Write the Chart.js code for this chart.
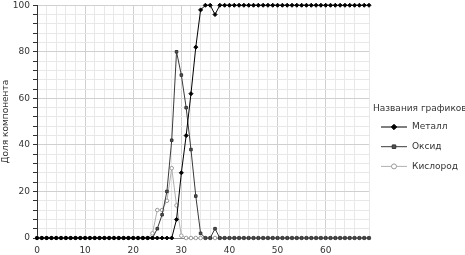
<!DOCTYPE html>
<html>
<head>
<meta charset="utf-8">
<script src="https://cdn.jsdelivr.net/npm/chart.js@4/dist/chart.umd.min.js"></script>
<style>
    html, body { margin: 0; padding: 0; background: #fff; }
    #wrap { width: 465px; height: 255px; }
</style>
</head>
<body>
<div id="wrap"><canvas id="chart"></canvas></div>
<script>
// Data
const xValues = [
    0, 1, 2, 3, 4, 5, 6, 7, 8, 9,
    10, 11, 12, 13, 14, 15, 16, 17, 18, 19,
    20, 21, 22, 23, 24, 25, 26, 27, 28, 29,
    30, 31, 32, 33, 34, 35, 36, 37, 38, 39,
    40, 41, 42, 43, 44, 45, 46, 47, 48, 49,
    50, 51, 52, 53, 54, 55, 56, 57, 58, 59,
    60, 61, 62, 63, 64, 65, 66, 67, 68, 69
];
const metall = [
    0, 0, 0, 0, 0, 0, 0, 0, 0, 0,
    0, 0, 0, 0, 0, 0, 0, 0, 0, 0,
    0, 0, 0, 0, 0, 0, 0, 0, 0, 8,
    28, 44, 62, 82, 98, 100, 100, 96, 100, 100,
    100, 100, 100, 100, 100, 100, 100, 100, 100, 100,
    100, 100, 100, 100, 100, 100, 100, 100, 100, 100,
    100, 100, 100, 100, 100, 100, 100, 100, 100, 100
];
const oksid = [
    0, 0, 0, 0, 0, 0, 0, 0, 0, 0,
    0, 0, 0, 0, 0, 0, 0, 0, 0, 0,
    0, 0, 0, 0, 0, 4, 10, 20, 42, 80,
    70, 56, 38, 18, 2, 0, 0, 4, 0, 0,
    0, 0, 0, 0, 0, 0, 0, 0, 0, 0,
    0, 0, 0, 0, 0, 0, 0, 0, 0, 0,
    0, 0, 0, 0, 0, 0, 0, 0, 0, 0
];
const kislorod = [
    0, 0, 0, 0, 0, 0, 0, 0, 0, 0,
    0, 0, 0, 0, 0, 0, 0, 0, 0, 0,
    0, 0, 0, 0, 2, 12, 12, 16, 30, 14,
    1, 0, 0, 0, 0, 0, 0, 0, 0, 0,
    0, 0, 0, 0, 0, 0, 0, 0, 0, 0,
    0, 0, 0, 0, 0, 0, 0, 0, 0, 0,
    0, 0, 0, 0, 0, 0, 0, 0, 0, 0
];
const seriesNames = ['Металл', 'Оксид', 'Кислород'];
const legendTitle = 'Названия графиков';
const yTitle = 'Доля компонента';

const FONT = 'DejaVu Sans';
const toPoints = (ys) => ys.map((y, i) => ({ x: xValues[i], y: y }));

// Legend on the right: line sample with the series marker in the middle
const sideLegend = {
    id: 'sideLegend',
    afterDraw(chart) {
        const c = chart.ctx;
        c.save();
        c.font = `9px "${FONT}"`;
        c.textBaseline = 'middle';
        c.textAlign = 'left';
        c.fillStyle = '#333';
        c.fillText(legendTitle, 373, 109);
        chart.data.datasets.forEach((ds, i) => {
            const y = 127 + i * 19.7;
            c.strokeStyle = ds.borderColor;
            c.lineWidth = 1;
            c.beginPath();
            c.moveTo(381, y);
            c.lineTo(407, y);
            c.stroke();
            c.fillStyle = ds.pointBackgroundColor;
            c.strokeStyle = ds.pointBorderColor;
            Chart.helpers.drawPoint(c, {
                pointStyle: ds.pointStyle,
                radius: ds.pointRadius + 0.7,
                borderWidth: 1
            }, 394, y);
            c.fillStyle = '#333';
            c.fillText(ds.label, 412, y);
        });
        c.restore();
    }
};

const ctx = document.getElementById('chart');
new Chart(ctx, {
    type: 'line',
    data: {
        datasets: [
            {
                label: seriesNames[0],
                data: toPoints(metall),
                borderColor: '#000',
                borderWidth: 1,
                pointStyle: 'rectRot',
                pointRadius: 2,
                pointBackgroundColor: '#000',
                pointBorderColor: '#000',
                pointBorderWidth: 1,
                clip: 5
            },
            {
                label: seriesNames[1],
                data: toPoints(oksid),
                borderColor: '#3a3a3a',
                borderWidth: 1,
                pointStyle: 'rect',
                pointRadius: 1.8,
                pointBackgroundColor: '#555',
                pointBorderColor: '#333',
                pointBorderWidth: 1,
                clip: 5
            },
            {
                label: seriesNames[2],
                data: toPoints(kislorod),
                borderColor: '#b0b0b0',
                borderWidth: 1,
                pointStyle: 'circle',
                pointRadius: 1.8,
                pointBackgroundColor: '#fff',
                pointBorderColor: '#999',
                pointBorderWidth: 1,
                clip: 5
            }
        ]
    },
    options: {
        responsive: true,
        maintainAspectRatio: false,
        animation: false,
        layout: { padding: { top: 3, right: 96, left: 0, bottom: 0 } },
        plugins: {
            legend: { display: false },
            tooltip: { enabled: false }
        },
        scales: {
            x: {
                type: 'linear',
                min: 0,
                max: 69,
                afterFit: (scale) => { scale.height = 17; },
                ticks: {
                    stepSize: 2,
                    autoSkip: false,
                    maxRotation: 0,
                    padding: 7,
                    color: '#333',
                    font: { family: FONT, size: 9 },
                    callback: (v) => (v % 10 === 0 ? v : '')
                },
                grid: {
                    drawTicks: false,
                    color: (c) => (c.tick && c.tick.value % 10 === 0 ? '#d0d0d0' : '#e8e8e8')
                },
                border: { display: true, color: '#888' }
            },
            y: {
                min: 0,
                max: 100,
                afterFit: (scale) => { scale.width = 37; },
                title: {
                    display: true,
                    text: yTitle,
                    color: '#333',
                    padding: 0,
                    font: { family: FONT, size: 9 }
                },
                ticks: {
                    stepSize: 4,
                    autoSkip: false,
                    padding: 3,
                    color: '#333',
                    font: { family: FONT, size: 9, lineHeight: 0.5 },
                    callback: (v) => (v % 20 === 0 ? v : '')
                },
                grid: {
                    tickLength: 4,
                    tickColor: '#333',
                    color: (c) => (c.tick && c.tick.value % 20 === 0 ? '#d0d0d0' : '#e8e8e8')
                },
                border: { display: true, color: '#333' }
            }
        }
    },
    plugins: [sideLegend]
});
</script>
</body>
</html>
